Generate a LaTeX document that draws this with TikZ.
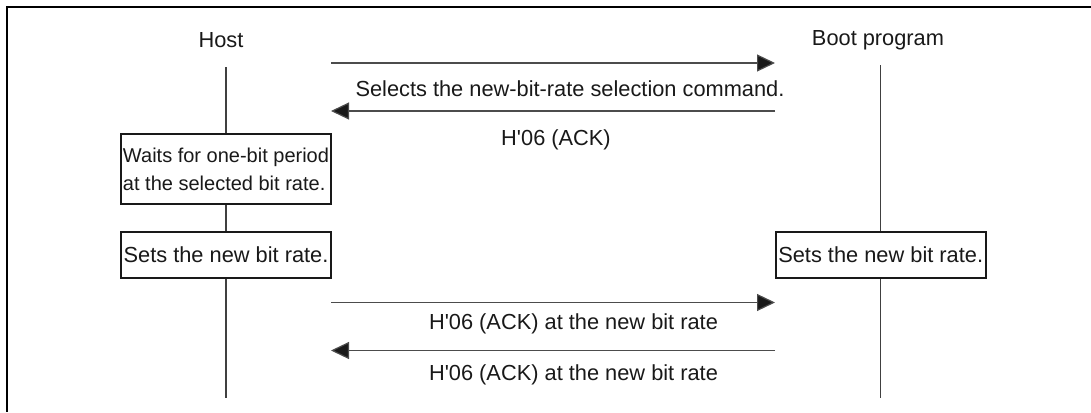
\documentclass[tikz,border=0pt]{standalone}
\usepackage{fontspec}
\setmainfont{Liberation Sans}
\usetikzlibrary{arrows.meta}
\newcommand{\sq}{\textquotesingle}
\begin{document}
\begin{tikzpicture}[x=1pt,y=-1pt,
  txt/.style={font=\fontsize{21.8}{26}\selectfont, text=black!90, inner sep=0pt, anchor=base},
  life/.style={line width=1.2pt, draw=black!75},
  msg/.style={line width=1.2pt, draw=black!70, -{Triangle[length=18pt,width=17pt,fill=black!90]}},
  procbox/.style={draw=black!90, line width=1.6pt, fill=white, inner sep=0pt, minimum width=210pt},
  frameline/.style={line width=2.6pt, draw=black}]
\useasboundingbox (0,0) rectangle (1091,412);
\draw[frameline] (1091,7) -- (7,7) -- (7,412);

% participants
\node[txt] (host) at (221,47.5) {Host};
\node[txt] (boot) at (878,45.5) {Boot program};
\coordinate (hosttop) at (226,67);
\coordinate (hostbot) at (226,398);
\coordinate (boottop) at (880.5,65);
\coordinate (bootbot) at (880.5,398);
\draw[life] (hosttop) -- (hostbot);
\draw[life] (boottop) -- (bootbot);

% boxes
\node[procbox, minimum height=70pt, align=left,
      font=\fontsize{20}{28}\selectfont, text=black!90] (wait) at (226,169)
      {Waits for one-bit period\\at the selected bit rate.};
\node[procbox, minimum height=46pt, font=\fontsize{21.8}{26}\selectfont, text=black!90] (hset) at (226,254.7) {Sets the new bit rate.};
\node[procbox, minimum height=46pt, font=\fontsize{21.8}{26}\selectfont, text=black!90] (bset) at (880.7,254.7) {Sets the new bit rate.};

% message end points
\coordinate (m1h) at (331,63);   \coordinate (m1b) at (775,63);
\coordinate (m2h) at (331,111);  \coordinate (m2b) at (775,111);
\coordinate (m3h) at (331,302.5);\coordinate (m3b) at (775,302.5);
\coordinate (m4h) at (331,350.5);\coordinate (m4b) at (775,350.5);

\draw[msg] (m1h) -- (m1b);
\draw[msg] (m2b) -- (m2h);
\draw[msg] (m3h) -- (m3b);
\draw[msg] (m4b) -- (m4h);

% labels
\node[txt] (l1) at (570,96) {Selects the new-bit-rate selection command.};
\node[txt] (l2) at (556,145) {H\sq 06 (ACK)};
\node[txt] (l3) at (573.5,329) {H\sq 06 (ACK) at the new bit rate};
\node[txt] (l4) at (573.5,380) {H\sq 06 (ACK) at the new bit rate};
\end{tikzpicture}
\end{document}
